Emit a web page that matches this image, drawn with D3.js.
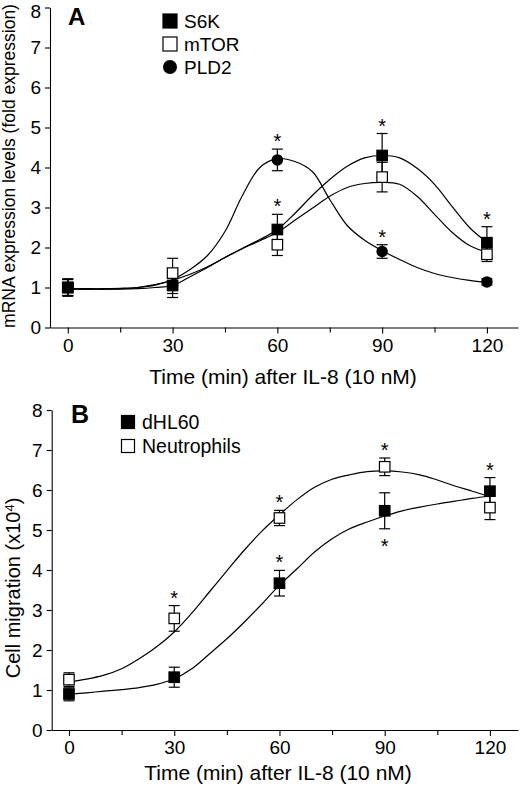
<!DOCTYPE html>
<html><head><meta charset="utf-8">
<script src="https://cdn.jsdelivr.net/npm/d3@7"></script>
<style>
body{margin:0;background:#fff}
svg{display:block}
text{font-family:"Liberation Sans",Arial,Helvetica,sans-serif;fill:#000}
</style>
</head><body>
<svg id="chart" width="520" height="785"></svg>
<script>
// ---------- Panel A data ----------
const timesA = [0, 30, 60, 90, 120];
const s6kMean  = [1.00, 1.05, 2.45, 4.30, 2.12];
const s6kErr   = [0.22, 0.30, 0.38, 0.55, 0.40];
const mtorMean = [1.00, 1.36, 2.07, 3.76, 1.83];
const mtorErr  = [0.20, 0.37, 0.27, 0.37, 0.18];
const pld2Mean = [1.00, 1.05, 4.19, 1.90, 1.14];
const pld2Err  = [0.20, 0.20, 0.27, 0.17, 0.08];
const s6kStar  = ["", "", "above", "above", "above"];
const mtorStar = ["", "", "", "", ""];
const pld2Star = ["", "", "above", "above", ""];
// fitted curves, every 5 min
const fitTimes = [0,5,10,15,20,25,30,35,40,45,50,55,60,65,70,75,80,85,90,95,100,105,110,115,120];
const s6kFit  = [0.96,0.96,0.96,0.96,0.97,1.00,1.05,1.27,1.50,1.75,1.98,2.20,2.45,2.85,3.30,3.70,4.03,4.24,4.30,4.24,3.98,3.58,3.03,2.50,2.13];
const mtorFit = [0.96,0.96,0.96,0.97,1.00,1.07,1.18,1.33,1.52,1.75,1.97,2.17,2.38,2.68,2.98,3.28,3.50,3.60,3.63,3.58,3.28,2.83,2.38,2.05,1.88];
const pld2Fit = [0.97,0.97,0.97,0.98,1.00,1.06,1.20,1.45,1.80,2.40,3.30,4.00,4.22,4.15,3.90,3.20,2.55,2.18,1.92,1.70,1.50,1.35,1.25,1.18,1.13];
const yTicksA = [0,1,2,3,4,5,6,7,8];
const xTicks = [0, 30, 60, 90, 120];
const xMinorTicks = [15, 45, 75, 105];
const legendA = ["S6K", "mTOR", "PLD2"];

// ---------- Panel B data ----------
const timesB = [0, 30, 60, 90, 120];
const dhlMean  = [0.90, 1.32, 3.67, 5.48, 5.97];
const dhlErr   = [0.17, 0.25, 0.32, 0.45, 0.34];
const neutMean = [1.26, 2.79, 5.30, 6.58, 5.56];
const neutErr  = [0.17, 0.32, 0.19, 0.22, 0.30];
const dhlStar  = ["", "", "above", "below", "above"];
const neutStar = ["", "above", "above", "above", ""];
const dhlFit  = [0.89,0.93,0.97,1.01,1.06,1.14,1.28,1.53,1.90,2.28,2.70,3.15,3.62,4.03,4.45,4.78,5.03,5.20,5.35,5.48,5.57,5.65,5.72,5.79,5.85];
const neutFit = [1.20,1.27,1.37,1.53,1.78,2.08,2.45,2.92,3.45,3.98,4.50,4.97,5.38,5.76,6.07,6.27,6.38,6.46,6.48,6.45,6.38,6.25,6.10,5.97,5.83];
const yTicksB = [0,1,2,3,4,5,6,7,8];
const legendB = ["dHL60", "Neutrophils"];

const svg = d3.select("#chart");

function drawPanel(p) {
  const g = svg.append("g");
  const x = d3.scaleLinear().domain(p.xDomain).range([p.left, p.right]);
  const y = d3.scaleLinear().domain([0, 8]).range([p.bottom, p.top]);

  // axes
  g.append("g").attr("transform", `translate(0,${p.bottom})`)
    .call(d3.axisBottom(x).tickValues(xTicks).tickSize(6).tickSizeOuter(0).tickPadding(p.xTickPad).tickFormat(d3.format("d")));
  g.append("g").attr("transform", `translate(0,${p.bottom})`)
    .call(d3.axisBottom(x).tickValues(xMinorTicks).tickSize(5).tickSizeOuter(0).tickFormat(""))
    .select(".domain").remove();
  const ya = g.append("g").attr("transform", `translate(${p.left},0)`)
    .call(d3.axisLeft(y).tickValues(p.yTicks).tickSize(5).tickSizeOuter(0).tickPadding(4).tickFormat(d3.format("d")));
  g.selectAll(".tick line, .domain").attr("stroke", "#000").attr("stroke-width", 1.1);
  g.selectAll(".tick text").attr("font-size", p.tickFont).attr("font-family", '"Liberation Sans",Arial,sans-serif').attr("fill", "#000");
  // keep the topmost label inside the picture
  ya.selectAll(".tick text").filter(d => d === 8).attr("dy", p.topLabelDy);

  // axis titles
  g.append("text").attr("x", p.xTitleX).attr("y", p.xTitleY).attr("text-anchor", "middle")
    .attr("font-size", p.xTitleFont).text("Time (min) after IL-8 (10 nM)");
  const yt = g.append("text").attr("transform", `translate(${p.yTitleX},${p.yTitleY}) rotate(-90)`)
    .attr("text-anchor", "middle").attr("font-size", p.yTitleFont);
  p.yTitle(yt);

  // panel letter
  g.append("text").attr("x", p.letterX).attr("y", p.letterY).attr("font-size", p.letterFont)
    .attr("font-weight", "bold").text(p.letter);

  // fitted curves
  const line = d3.line().x((d, i) => x(fitTimes[i])).y(d => y(d)).curve(d3.curveCatmullRom.alpha(0.5));
  p.series.forEach(s => {
    g.append("path").attr("d", line(s.fit)).attr("fill", "none").attr("stroke", "#000").attr("stroke-width", 1.2);
  });

  // error bars
  p.series.forEach(s => {
    s.mean.forEach((m, i) => {
      const cx = x(p.times[i]);
      const y1 = y(m - s.err[i]), y2 = y(m + s.err[i]);
      g.append("line").attr("x1", cx).attr("x2", cx).attr("y1", y1).attr("y2", y2).attr("stroke", "#000").attr("stroke-width", 1.2);
      [y1, y2].forEach(yy => g.append("line").attr("x1", cx - 5.5).attr("x2", cx + 5.5).attr("y1", yy).attr("y2", yy).attr("stroke", "#000").attr("stroke-width", 1.2));
    });
  });

  // markers
  function marker(sel, shape, cx, cy, size) {
    if (shape === "circle") {
      sel.append("circle").attr("cx", cx).attr("cy", cy).attr("r", size / 2).attr("fill", "#000");
    } else {
      sel.append("rect").attr("x", cx - size / 2).attr("y", cy - size / 2).attr("width", size).attr("height", size)
        .attr("fill", shape === "open" ? "#fff" : "#000").attr("stroke", "#000").attr("stroke-width", 1.2);
    }
  }
  p.drawOrder.forEach(si => {
    const s = p.series[si];
    s.mean.forEach((m, i) => marker(g, s.shape, x(p.times[i]), y(m), s.shape === "circle" ? 11.5 : 10.5));
  });

  // asterisks
  p.series.forEach(s => {
    s.star.forEach((st, i) => {
      if (!st) return;
      const cx = x(p.times[i]);
      const cy = st === "above" ? y(s.mean[i] + s.err[i]) - 12 : y(s.mean[i] - s.err[i]) + 13;
      g.append("text").attr("x", cx).attr("y", cy + 11).attr("text-anchor", "middle").attr("font-size", 20).text("*");
    });
  });

  // legend
  p.legend.forEach((name, i) => {
    const s = p.series[i];
    const cy = p.legY + i * p.legStep;
    marker(g, s.shape, p.legX, cy, p.legSize);
    g.append("text").attr("x", p.legX + p.legTextDx).attr("y", cy + p.legFont * 0.36).attr("font-size", p.legFont).text(name);
  });
}

drawPanel({
  xDomain: [-5.1, 128.9], left: 50, right: 518, top: 7.5, bottom: 327.5,
  xTickPad: 5, tickFont: 19, yTicks: yTicksA, topLabelDy: "0.52em",
  xTitleX: 283, xTitleY: 384, xTitleFont: 21,
  yTitleX: 15, yTitleY: 166, yTitleFont: 17.5,
  yTitle: t => t.text("mRNA expression levels (fold expression)"),
  letter: "A", letterX: 68, letterY: 25, letterFont: 24,
  times: timesA,
  series: [
    {mean: s6kMean, err: s6kErr, fit: s6kFit, star: s6kStar, shape: "filled"},
    {mean: mtorMean, err: mtorErr, fit: mtorFit, star: mtorStar, shape: "open"},
    {mean: pld2Mean, err: pld2Err, fit: pld2Fit, star: pld2Star, shape: "circle"}
  ],
  drawOrder: [1, 2, 0],
  legend: legendA, legX: 170, legY: 21, legStep: 23, legSize: 14, legTextDx: 14, legFont: 19
});

drawPanel({
  xDomain: [-4.93, 128], left: 51.7, right: 518, top: 410, bottom: 730,
  xTickPad: 5, tickFont: 19, yTicks: yTicksB, topLabelDy: "0.32em",
  xTitleX: 278, xTitleY: 780, xTitleFont: 21,
  yTitleX: 20, yTitleY: 588, yTitleFont: 20,
  yTitle: t => {
    t.append("tspan").text("Cell migration (x10");
    t.append("tspan").attr("dy", -6).attr("font-size", 13).text("4");
    t.append("tspan").attr("dy", 6).text(")");
  },
  letter: "B", letterX: 71, letterY: 423, letterFont: 25,
  times: timesB,
  series: [
    {mean: dhlMean, err: dhlErr, fit: dhlFit, star: dhlStar, shape: "filled"},
    {mean: neutMean, err: neutErr, fit: neutFit, star: neutStar, shape: "open"}
  ],
  drawOrder: [1, 0],
  legend: legendB, legX: 128, legY: 422, legStep: 24, legSize: 13, legTextDx: 14, legFont: 19.5
});
</script>
</body></html>
